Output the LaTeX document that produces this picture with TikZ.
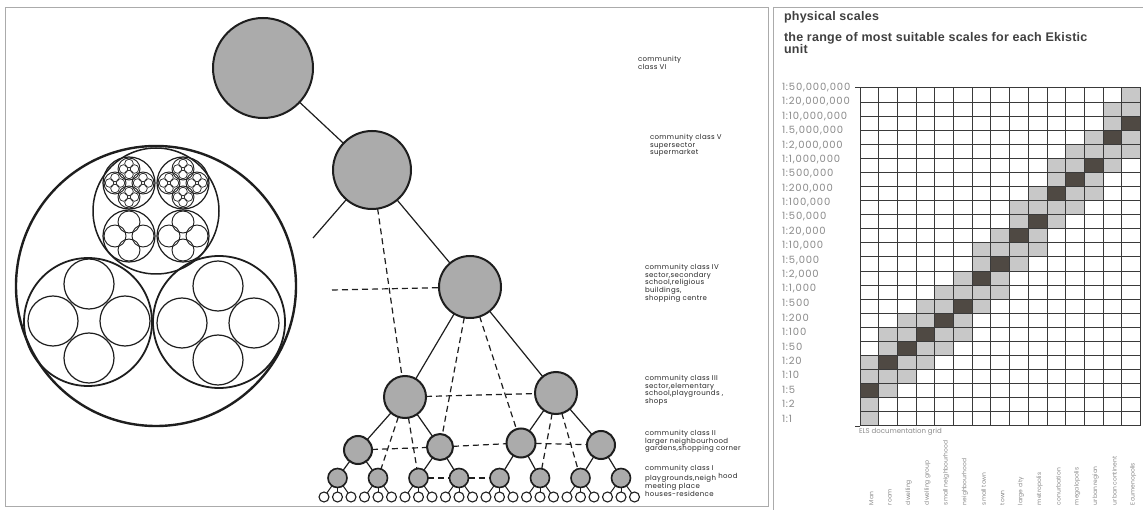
\documentclass[tikz,border=0pt]{standalone}
\usepackage{fontspec}
\setmainfont{Poppins}
\newfontfamily\geo{Poppins}
\newfontfamily\geos{Poppins}[LetterSpace=5]
\newfontfamily\geow{Poppins}[LetterSpace=8]
\newfontfamily\hel{Liberation Sans}[LetterSpace=2]
\definecolor{stip}{HTML}{ABABAB}
\definecolor{inkc}{HTML}{1E1E1E}
\definecolor{cellL}{HTML}{C8C8C8}
\definecolor{cellD}{HTML}{4F4943}
\definecolor{gridc}{HTML}{3A3A3A}
\definecolor{labc}{HTML}{8A8A8A}
\definecolor{framec}{HTML}{ABABAB}
\definecolor{titc}{HTML}{404040}
\begin{document}
\begin{tikzpicture}[x=1pt,y=-1pt,
  every node/.style={inner sep=0pt,outer sep=0pt},
  frame/.style={draw=framec,line width=0.9pt},
  ring/.style={draw=inkc,line width=2pt},
  g1/.style={draw=inkc,line width=1.2pt},
  g2/.style={draw=inkc,line width=0.9pt},
  g3/.style={draw=inkc,line width=0.7pt},
  comm/.style={circle,draw=inkc,fill=stip,line width=2pt},
  house/.style={circle,draw=inkc,fill=white,line width=1.1pt,minimum size=10pt},
  tie/.style={draw=inkc,line width=1.2pt},
  dtie/.style={draw=inkc,line width=1.2pt,dash pattern=on 6pt off 4pt},
  lab/.style={font=\geos\fontsize{7}{7.7}\selectfont,align=left,anchor=north west,text=black!85},
  scl/.style={font=\geow\fontsize{10}{10}\selectfont,anchor=west,text=labc},
  unitlab/.style={font=\geo\fontsize{6}{6}\selectfont,anchor=west,rotate=90,text=labc},
  title/.style={font=\hel\bfseries\fontsize{12.5}{12}\selectfont,anchor=north west,align=left,text=titc}
]
\useasboundingbox (0,0) rectangle (1143,510);
\fill[white] (0,0) rectangle (1143,510);
% frames
\draw[frame] (5,7) rectangle (768,506);
\draw[frame] (773,7) -- (1150,7);
\draw[frame] (773,7) -- (773,515);

% ---------- left: nested circles ----------
\draw[ring,line width=2.4pt] (156,286) circle (140pt);
\draw[ring,line width=1.5pt] (156,211) circle (63pt);
\draw[ring,line width=1.8pt] (88,322) circle (64pt);
\draw[ring,line width=1.8pt] (219,322) circle (66pt);
\foreach \cx/\cy in {89/321,218/323}{
  \foreach \dx/\dy in {0/-37,-36/0,36/0,0/37}{
    \draw[g1] ({\cx+\dx},{\cy+\dy}) circle (25pt);}}
\foreach \gx/\gy in {129/183,183/183}{
  \draw[g1] (\gx,\gy) circle (26pt);
  \foreach \dx/\dy in {0/-14,-14/0,14/0,0/14}{
    \draw[g2] ({\gx+\dx},{\gy+\dy}) circle (11pt);
    \foreach \ex/\ey in {0/-5.5,-5.5/0,5.5/0,0/5.5}{
      \draw[g3] ({\gx+\dx+\ex},{\gy+\dy+\ey}) circle (4.3pt);}}}
\foreach \gx/\gy in {129/236,183/236}{
  \draw[g1] (\gx,\gy) circle (26pt);
  \foreach \dx/\dy in {0/-14,-14/0,14/0,0/14}{
    \draw[g2] ({\gx+\dx},{\gy+\dy}) circle (11pt);}}

% ---------- left: hierarchy tree ----------
\node[comm,minimum size=100pt] (c6) at (263,68) {};
\node[comm,minimum size=78pt] (c5) at (372,170) {};
\node[comm,minimum size=62pt] (c4) at (470,287) {};
\node[comm,minimum size=42pt] (c3a) at (405,397) {};
\node[comm,minimum size=42pt] (c3b) at (556,393) {};
\node[comm,minimum size=28pt] (c2a) at (358,450) {};
\node[comm,minimum size=26pt] (c2b) at (440,447) {};
\node[comm,minimum size=29pt] (c2c) at (521,443) {};
\node[comm,minimum size=28pt] (c2d) at (601,445) {};
\foreach \j in {1,...,8}{
  \node[comm,minimum size=19pt,line width=1.6pt] (i\j) at ({337.5+40.5*(\j-1)},478) {};}
\foreach \k in {1,...,24}{
  \node[house] (h\k) at ({324+13.5*(\k-1)},497) {};}
\coordinate (stub) at (313,238);
\coordinate (sib) at (332,290);

\draw[tie] (c6) -- (c5);
\draw[tie] (c5) -- (c4);
\draw[tie] (c5) -- (stub);
\draw[tie] (c4) -- (c3a);
\draw[tie] (c4) -- (c3b);
\draw[tie] (c3a) -- (c2a);
\draw[tie] (c3a) -- (c2b);
\draw[tie] (c3b) -- (c2c);
\draw[tie] (c3b) -- (c2d);
\draw[tie] (c2a) -- (i1); \draw[tie] (c2a) -- (i2);
\draw[tie] (c2b) -- (i3); \draw[tie] (c2b) -- (i4);
\draw[tie] (c2c) -- (i5); \draw[tie] (c2c) -- (i6);
\draw[tie] (c2d) -- (i7); \draw[tie] (c2d) -- (i8);
\foreach \k in {1,...,24}{
  \pgfmathtruncatemacro\p{int((\k-1)/3)+1}
  \draw[tie,line width=1pt] (i\p) -- (h\k);}

\draw[dtie] (c5) -- (c3a);
\draw[dtie] (sib) -- (c4);
\draw[dtie] (c4) -- (c2b);
\draw[dtie] (c4) -- (c2c);
\draw[dtie] (c3a) -- (c3b);
\draw[dtie] (c3a) -- (i2);
\draw[dtie] (c3a) -- (i3);
\draw[dtie] (c3b) -- (i6);
\draw[dtie] (c3b) -- (i7);
\draw[dtie] (c2a) -- (c2b);
\draw[dtie] (c2b) -- (c2c);
\draw[dtie] (c2c) -- (c2d);
\draw[dtie] (i3) -- (i4);
\draw[dtie] (i4) -- (i5);

% labels
\node[lab] (l6) at (638,56) {community\\class VI};
\node[lab] (l5) at (650,134) {community class V\\supersector\\supermarket};
\node[lab] (l4) at (645,264) {community class IV\\sector,secondary\\school,religious\\buildings,\\shopping centre};
\node[lab] (l3) at (645,375) {community class III\\sector,elementary\\school,playgrounds ,\\shops};
\node[lab] (l2) at (645,430) {community class II\\larger neighbourhood\\gardens,shopping corner};
\node[lab] (l1) at (645,465) {community class I\\playgrounds,neigh \raisebox{2pt}{hood}\\meeting place};
\node[lab] (l0) at (645,491) {houses-residence};

% ---------- right: physical scales ----------
\node[title] (t1) at (784,11) {physical scales};
\node[title] (t2) at (784,32.5) {the range of most suitable scales for each Ekistic\\unit};

\def\xo{860}\def\cw{18.7}\def\yo{88}\def\rh{14.0833}
\foreach \c/\d in {0/21,1/19,2/18,3/17,4/16,5/15,6/13,7/12,8/10,9/9,10/7,11/6,12/5,13/3,14/2}{
  \fill[cellD] ({\xo+\c*\cw},{\yo+\d*\rh}) rectangle ++(\cw,\rh);
  \foreach \o in {-2,-1,1,2}{
    \pgfmathtruncatemacro\r{\d+\o}
    \ifnum\r>-1 \ifnum\r<24
      \fill[cellL] ({\xo+\c*\cw},{\yo+\r*\rh}) rectangle ++(\cw,\rh);
    \fi\fi}}
\foreach \i in {0,...,15}{
  \draw[gridc,line width=1pt] ({\xo+\i*\cw},\yo) -- ({\xo+\i*\cw},426);}
\foreach \i in {0,...,24}{
  \draw[gridc,line width=1pt] (\xo,{\yo+\i*\rh}) -- (1141,{\yo+\i*\rh});}
\draw[gridc,line width=1pt] (855,88) -- (\xo,88);
\draw[gridc,line width=1pt] (855,426) -- (\xo,426);

\foreach \t [count=\n from 0] in {1:50{,}000{,}000,1:20{,}000{,}000,1:10{,}000{,}000,1.5{,}000{,}000,1:2{,}000{,}000,1:1{,}000{,}000,1:500{,}000,1:200{,}000,1:100{,}000,1:50{,}000,1:20{,}000,1:10{,}000,1:5{,}000,1:2{,}000,1:1{,}000,1:500,1:200,1:100,1:50,1:20,1:10,1:5,1:2,1:1}{
  \node[scl] (s\n) at (782,{87.5+\n*14.39}) {\t};}

\node[font=\geo\fontsize{7}{7}\selectfont,anchor=west,text=labc] (els) at (859,432) {ELS documentation grid};
\foreach \u [count=\n from 0] in {Man,room,dwelling,dwelling group,small neighbourhood,neighbourhood,small town,town,large city,metropolis,conurbation,megalopolis,urban region,urban continent,Ecumenopolis}{
  \node[unitlab] (u\n) at ({\xo+(\n+0.5)*\cw+2},505) {\u};}
\end{tikzpicture}
\end{document}
